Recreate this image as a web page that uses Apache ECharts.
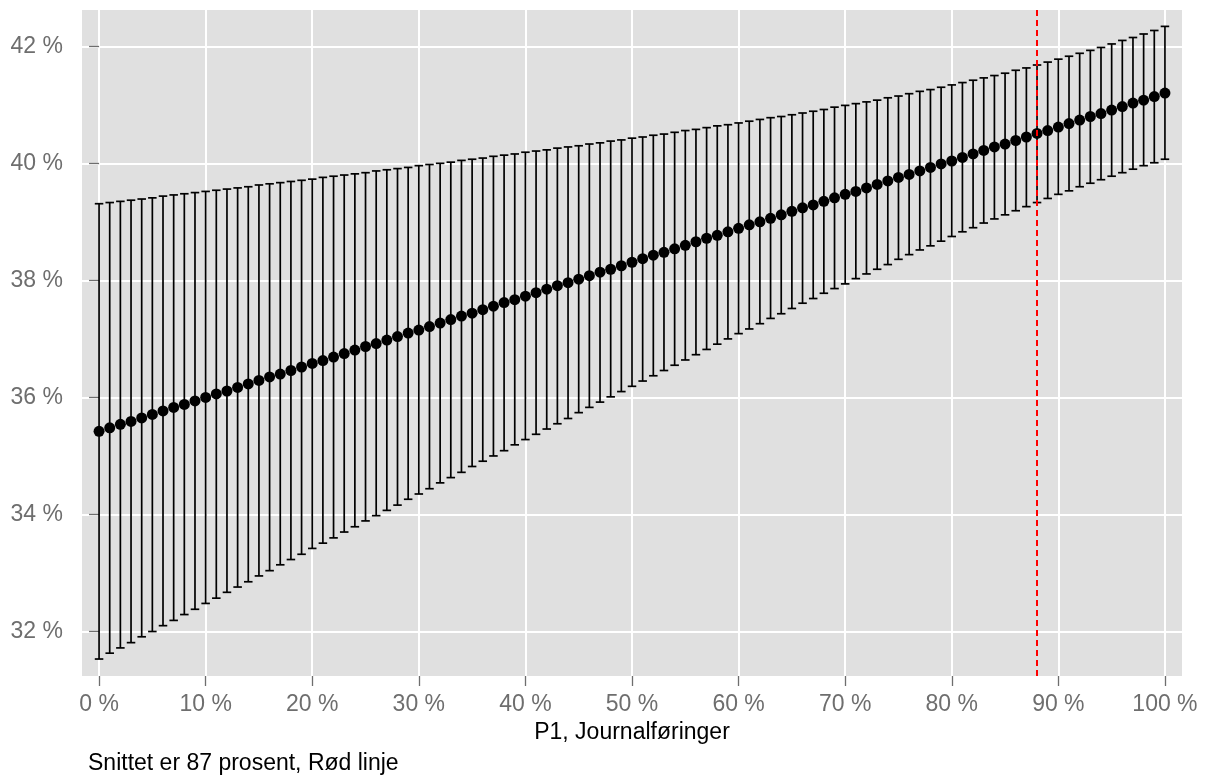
<!DOCTYPE html>
<html>
<head>
<meta charset="utf-8">
<script src="https://cdn.jsdelivr.net/npm/echarts@6/dist/echarts.min.js"></script>
<style>
html,body{margin:0;padding:0;background:#fff;}
#chart{width:1206px;height:777px;}
</style>
</head>
<body>
<div id="chart"></div>
<script>
// P1, Journalføringer (x, percent)
const xValues = [];
for (let i = 0; i <= 100; i++) xValues.push(i);

// Estimated value (percent)
const meanValues = [
35.42,35.48,35.54,35.59,35.65,35.71,35.77,35.83,35.88,35.94,
36.00,36.06,36.11,36.17,36.23,36.29,36.35,36.40,36.46,36.52,
36.58,36.63,36.69,36.75,36.81,36.87,36.92,36.98,37.04,37.10,
37.15,37.21,37.27,37.33,37.39,37.44,37.50,37.56,37.62,37.67,
37.73,37.79,37.85,37.91,37.96,38.02,38.08,38.14,38.19,38.25,
38.31,38.37,38.43,38.48,38.54,38.60,38.66,38.72,38.77,38.83,
38.89,38.95,39.00,39.06,39.12,39.18,39.24,39.29,39.35,39.41,
39.47,39.52,39.58,39.64,39.70,39.76,39.81,39.87,39.93,39.99,
40.04,40.10,40.16,40.22,40.28,40.33,40.39,40.45,40.51,40.56,
40.62,40.68,40.74,40.80,40.85,40.91,40.97,41.03,41.08,41.14,
41.20
];

// Lower bound of interval (percent)
const lowerValues = [
31.53,31.63,31.72,31.81,31.91,32.00,32.10,32.19,32.29,32.38,
32.48,32.57,32.67,32.76,32.85,32.95,33.04,33.14,33.23,33.32,
33.42,33.51,33.60,33.70,33.79,33.89,33.98,34.07,34.16,34.26,
34.35,34.44,34.54,34.63,34.72,34.82,34.91,35.00,35.09,35.19,
35.28,35.37,35.46,35.55,35.64,35.74,35.83,35.92,36.01,36.10,
36.19,36.28,36.37,36.46,36.55,36.64,36.73,36.82,36.91,37.00,
37.09,37.17,37.26,37.35,37.43,37.52,37.61,37.69,37.78,37.86,
37.94,38.03,38.11,38.19,38.27,38.36,38.44,38.52,38.59,38.67,
38.75,38.83,38.90,38.98,39.05,39.12,39.19,39.26,39.33,39.40,
39.47,39.53,39.60,39.66,39.72,39.78,39.84,39.90,39.96,40.01,
40.07
];

// Upper bound of interval (percent)
const upperValues = [
39.31,39.33,39.35,39.37,39.39,39.41,39.44,39.46,39.48,39.50,
39.52,39.54,39.56,39.58,39.60,39.63,39.65,39.67,39.69,39.71,
39.73,39.76,39.78,39.80,39.82,39.84,39.87,39.89,39.91,39.93,
39.96,39.98,40.00,40.02,40.05,40.07,40.09,40.12,40.14,40.16,
40.19,40.21,40.23,40.26,40.28,40.30,40.33,40.35,40.38,40.40,
40.43,40.45,40.48,40.50,40.53,40.56,40.58,40.61,40.64,40.66,
40.69,40.72,40.75,40.78,40.80,40.83,40.86,40.89,40.92,40.96,
40.99,41.02,41.05,41.08,41.12,41.15,41.19,41.23,41.26,41.30,
41.34,41.38,41.42,41.46,41.50,41.54,41.59,41.63,41.68,41.73,
41.78,41.83,41.88,41.93,41.98,42.04,42.10,42.15,42.21,42.27,
42.34
];

const xTicks = [0,10,20,30,40,50,60,70,80,90,100];
const yTicks = [32,34,36,38,40,42];
const averageLine = 88;
const xTitle = 'P1, Journalføringer';
const caption = 'Snittet er 87 prosent, Rød linje';

const barData = xValues.map((x, i) => [x, lowerValues[i], upperValues[i]]);
const pointData = xValues.map((x, i) => [x, meanValues[i]]);

const FONT = '"Liberation Sans", Arial, Helvetica, sans-serif';
const chart = echarts.init(document.getElementById('chart'), null, {renderer: 'canvas'});

chart.setOption({
  animation: false,
  backgroundColor: '#ffffff',
  grid: {
    left: 82, top: 10, width: 1100, height: 666,
    show: true, backgroundColor: '#e0e0e0', borderWidth: 0
  },
  xAxis: {
    type: 'value', min: -1.6, max: 101.6,
    axisLine: {show: false},
    axisTick: {show: true, customValues: xTicks, length: 10, lineStyle: {color: '#6e6e6e', width: 1.3}},
    axisLabel: {customValues: xTicks, formatter: v => v + ' %', margin: 17, color: '#6e6e6e', fontSize: 23, fontFamily: FONT},
    splitLine: {show: true, lineStyle: {color: '#ffffff', width: 2}},
    name: xTitle, nameLocation: 'middle', nameGap: 43,
    nameTextStyle: {color: '#000', fontSize: 23, fontFamily: FONT}
  },
  yAxis: {
    type: 'value', min: 31.24, max: 42.62,
    axisLine: {show: false},
    axisTick: {show: true, customValues: yTicks, length: 10, lineStyle: {color: '#6e6e6e', width: 1.3}},
    axisLabel: {customValues: yTicks, formatter: v => v + ' %', margin: 19, color: '#6e6e6e', fontSize: 23, fontFamily: FONT},
    splitLine: {show: true, lineStyle: {color: '#ffffff', width: 2}}
  },
  graphic: [{
    type: 'text', left: 88, top: 752,
    style: {text: caption, fill: '#000', font: '23px ' + FONT}
  }],
  series: [
    {
      type: 'custom',
      data: barData,
      encode: {x: 0, y: [1, 2]},
      z: 2,
      renderItem: function (params, api) {
        const x = api.value(0), lo = api.value(1), hi = api.value(2);
        const pLo = api.coord([x, lo]);
        const pHi = api.coord([x, hi]);
        const half = api.size([0.8, 0])[0] / 2;
        const st = {stroke: '#000', lineWidth: 1.7};
        return {
          type: 'group',
          children: [
            {type: 'line', shape: {x1: pLo[0], y1: pLo[1], x2: pHi[0], y2: pHi[1]}, style: st},
            {type: 'line', shape: {x1: pLo[0] - half, y1: pLo[1], x2: pLo[0] + half, y2: pLo[1]}, style: st},
            {type: 'line', shape: {x1: pHi[0] - half, y1: pHi[1], x2: pHi[0] + half, y2: pHi[1]}, style: st}
          ]
        };
      }
    },
    {
      type: 'scatter',
      data: pointData,
      symbol: 'circle',
      symbolSize: 11,
      itemStyle: {color: '#000', opacity: 1},
      z: 3
    },
    {
      type: 'line',
      data: [],
      z: 4,
      markLine: {
        silent: true,
        symbol: ['none', 'none'],
        label: {show: false},
        lineStyle: {color: '#ff0000', type: [6, 4], width: 2},
        data: [{xAxis: averageLine}]
      }
    }
  ]
});
</script>
</body>
</html>
